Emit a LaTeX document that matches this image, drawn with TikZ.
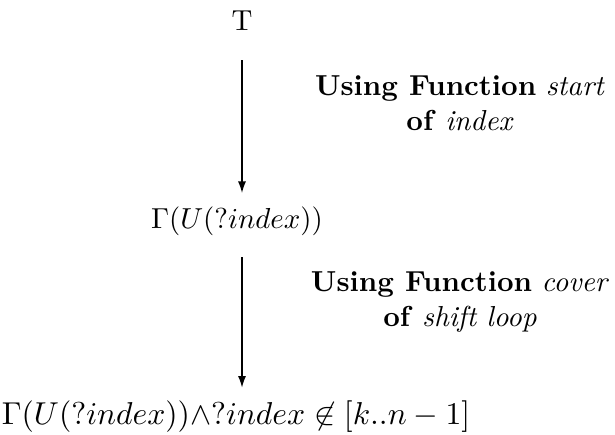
\documentclass[tikz,border=0pt]{standalone}
\usepackage{amsmath, amssymb}
\usepackage{tikz}
\usetikzlibrary{arrows.meta, positioning, calc}

\begin{document}
\begin{tikzpicture}[x=0.346pt, y=-0.346pt,
      term/.style={inner sep=0pt, font=\normalsize},
      note/.style={inner sep=0pt, align=center, font=\normalsize},
      arrow/.style={line width=0.45pt, -{Latex[length=4pt, width=2.8pt]}}]

      \useasboundingbox (0,0) rectangle (615,435);

      \node[term] (top) at (242,21) {T};
      \node[term] (mid) at (237,221) {$\Gamma(U(?index))$};
      \node[term, font=\fontsize{11}{13}\selectfont] (bot) at (236,417) {$\Gamma(U(?index)){\wedge}?index \not\in [k..n-1]$};

      \node[note] (startlbl) at (460,103) {\textbf{Using Function} \textit{start}\\ \textbf{of} \textit{index}};
      \node[note] (coverlbl) at (460,302) {\textbf{Using Function} \textit{cover}\\ \textbf{of} \textit{shift loop}};

      \draw[arrow, shorten <=10pt, shorten >=4.5pt] (top.south) -- (top.south |- mid.north);
      \draw[arrow, shorten <=7.3pt, shorten >=4.5pt] (mid.south -| top.south) -- (top.south |- bot.north);
  \end{tikzpicture}
\end{document}
